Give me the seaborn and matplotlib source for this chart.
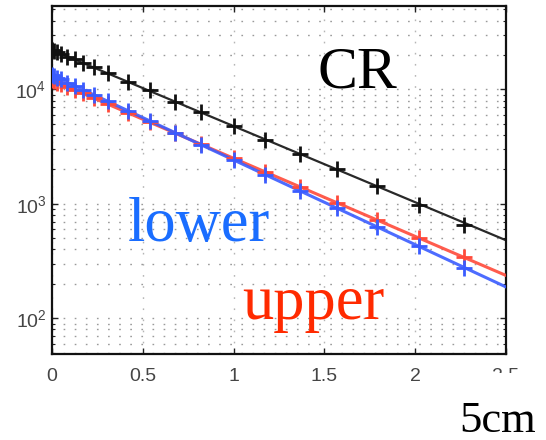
import numpy as np
import pandas as pd
import matplotlib
matplotlib.use("Agg")
import matplotlib.pyplot as plt
import seaborn as sns
from matplotlib.patches import Rectangle
from matplotlib.ticker import LogLocator, LogFormatterSciNotation, NullFormatter

# ---- data ----
x_pts = [0, 0.01, 0.03, 0.05, 0.085, 0.125, 0.17, 0.23, 0.31, 0.42, 0.54,
         0.68, 0.82, 1.0, 1.175, 1.365, 1.57, 1.79, 2.02, 2.27]
cr_vals = [22100, 21800, 21100, 20500, 19400, 18300, 17100, 15600, 13800, 11700,
           9800, 7800, 6350, 4800, 3650, 2750, 2020, 1430, 975, 660]
lower_vals = [13300, 13100, 12700, 12250, 11500, 10800, 9980, 9010, 7860, 6510,
              5310, 4180, 3290, 2420, 1800, 1300, 916, 630, 425, 277]
upper_vals = [12050, 11860, 11500, 11150, 10550, 9900, 9230, 8400, 7410, 6240,
              5170, 4140, 3330, 2510, 1900, 1410, 1020, 724, 505, 341]
# straight fit lines (start / end of each line)
fit_x = [0.0, 2.5]
cr_fit = [22100, 481]
lower_fit = [13300, 188]
upper_fit = [12050, 237]

x_ticks = [0, 0.5, 1, 1.5, 2, 2.5]
x_tick_labels = ["0", "0.5", "1", "1.5", "2", "2.5"]

series_names = ["upper", "lower", "CR"]
colors = {"upper": "#ff4a3a", "lower": "#3a5cff", "CR": "#111111"}

pts = pd.DataFrame({
    "x": x_pts * 3,
    "y": upper_vals + lower_vals + cr_vals,
    "s": ["upper"] * len(x_pts) + ["lower"] * len(x_pts) + ["CR"] * len(x_pts),
})
fits = pd.DataFrame({
    "x": fit_x * 3,
    "y": upper_fit + lower_fit + cr_fit,
    "s": ["upper"] * 2 + ["lower"] * 2 + ["CR"] * 2,
})

sns.set_style("ticks")
plt.rcParams["font.family"] = ["Liberation Sans", "DejaVu Sans"]
plt.rcParams["mathtext.default"] = "regular"

W, H = 546, 440
fig = plt.figure(figsize=(W / 100, H / 100), dpi=100)
ax = fig.add_axes([52 / W, 1 - 354 / H, (506 - 52) / W, (354 - 6) / H])

for name in series_names:
    lw = 1.6 if name == "CR" else 2.2
    sns.lineplot(data=fits[fits.s == name], x="x", y="y", color=colors[name],
                 lw=lw, ax=ax, legend=False, zorder=3, alpha=0.9)
for name in series_names:
    sns.scatterplot(data=pts[pts.s == name], x="x", y="y", color=colors[name],
                    marker="+", s=120, linewidth=2.0, ax=ax, legend=False, zorder=4)

ax.set_yscale("log")
ax.set_xlim(0, 2.5)
ax.set_ylim(48.8, 53600)
ax.set_xlabel("")
ax.set_ylabel("")
ax.set_xticks(x_ticks)
ax.set_xticklabels(x_tick_labels)
ax.yaxis.set_major_locator(LogLocator(base=10, numticks=10))
ax.yaxis.set_major_formatter(LogFormatterSciNotation())
ax.yaxis.set_minor_locator(LogLocator(base=10, subs=np.arange(2, 10), numticks=20))
ax.yaxis.set_minor_formatter(NullFormatter())

dots = (0, (1.2, 6.8))
ax.yaxis.grid(True, which="both", linestyle=dots, color="#9a9a9a", lw=1.0)
ax.xaxis.grid(True, which="major", linestyle=dots, color="#b5b5b5", lw=1.0)

for sp in ax.spines.values():
    sp.set_linewidth(1.6)
    sp.set_color("#111111")

ax.tick_params(axis="both", which="major", direction="in", length=4.5, width=1,
               top=True, right=True, labelsize=14, labelcolor="#454545", color="#222222")
ax.tick_params(axis="y", which="minor", direction="in", length=2.5, width=0.8,
               right=True, left=True, color="#222222")
ax.tick_params(axis="x", which="major", pad=10)
ax.tick_params(axis="y", which="major", pad=4)


def ftext(px, py, s, **kw):
    fig.text(px / W, 1 - py / H, s, va="baseline", ha="left",
             family=["Liberation Serif", "DejaVu Serif"], **kw)


ftext(317, 87, "CR", fontsize=43, color="black", zorder=6)
ftext(128, 241, "lower", fontsize=45, color="#1a6dff", zorder=6)
ftext(242, 319, "upper", fontsize=45, color="#ff2a00", zorder=6)

# white block that hides the lower half of the last tick label, then the "5cm" note
fig.add_artist(Rectangle((440 / W, 0), (W - 440) / W, 1 - 373 / H,
                         transform=fig.transFigure, facecolor="white",
                         edgecolor="none", zorder=5))
ftext(459, 432, "5cm", fontsize=32, color="black", zorder=6)

fig.savefig("out.png", dpi=100)
